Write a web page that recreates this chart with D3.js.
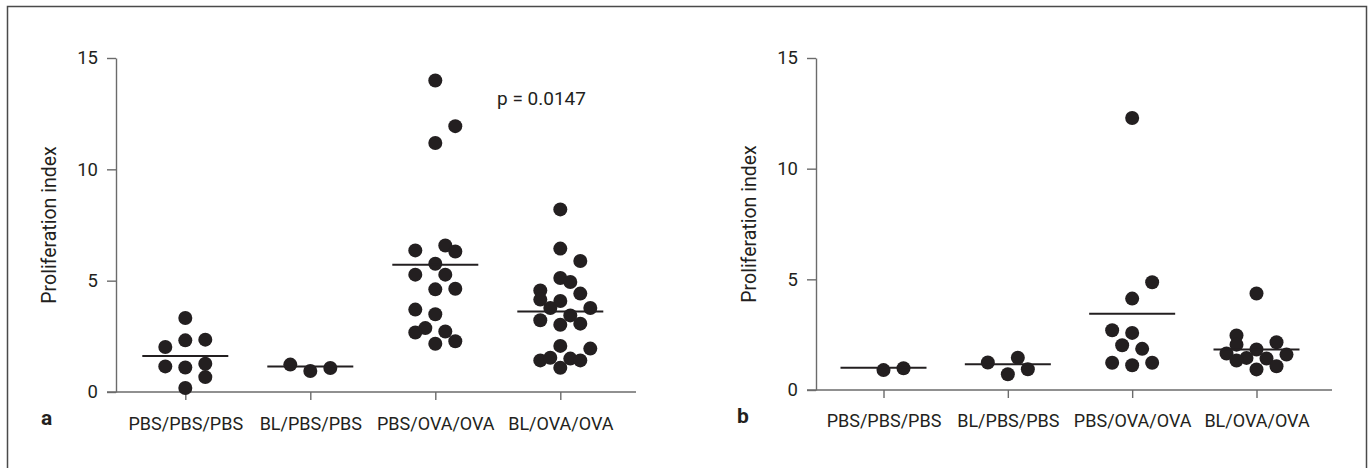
<!DOCTYPE html>
<html lang="en">
<head>
<meta charset="UTF-8">
<title>Proliferation index</title>
<style>
  body { margin: 0; background: #fff; }
  text { font-family: Roboto, "Noto Sans", sans-serif; fill: #231f20; }
</style>
</head>
<body>
<svg id="chart" width="1370" height="468"></svg>
<script src="https://d3js.org/d3.v7.min.js"></script>
<script>
const categories = ["PBS/PBS/PBS", "BL/PBS/PBS", "PBS/OVA/OVA", "BL/OVA/OVA"];
const yTicks = [0, 5, 10, 15];

// panel a: values per group, lane = horizontal slot of each dot as seen in the picture
const aValues = [
  [3.32, 2.02, 2.32, 2.35, 1.15, 1.10, 1.27, 0.67, 0.18],
  [1.23, 0.94, 1.08],
  [13.99, 11.94, 11.18, 6.36, 6.58, 6.31, 5.76, 5.27, 5.27, 4.61, 4.64, 3.70, 3.49, 2.87, 2.67, 2.72, 2.17, 2.28],
  [8.20, 6.44, 5.88, 5.12, 4.94, 4.56, 4.42, 4.15, 4.09, 3.77, 3.77, 3.44, 3.22, 3.02, 3.07, 2.07, 1.95, 1.42, 1.54, 1.50, 1.42, 1.09]
];
const aLanes = [
  [0, -2, 0, 2, -2, 0, 2, 2, 0],
  [-2, 0, 2],
  [0, 2, 0, -2, 1, 2, 0, -2, 1, 0, 2, -2, 0, -1, -2, 1, 0, 2],
  [0, 0, 2, 0, 1, -2, 2, -2, 0, -1, 3, 1, -2, 0, 2, 0, 3, -2, -1, 1, 2, 0]
];
const aMeans = [1.62, 1.14, 5.72, 3.62];

// panel b
const bValues = [
  [0.90, 0.98],
  [1.24, 1.46, 0.71, 0.94],
  [12.29, 4.87, 4.13, 2.70, 2.58, 2.02, 1.86, 1.23, 1.12, 1.23],
  [4.36, 2.46, 2.05, 2.16, 1.83, 1.65, 1.45, 1.33, 1.42, 1.60, 0.93, 1.07]
];
const bLanes = [
  [0, 2],
  [-2, 1, 0, 2],
  [0, 2, 0, -2, 0, -1, 1, -2, 0, 2],
  [0, -2, -2, 2, 0, -3, -1, -2, 1, 3, 0, 2]
];
const bMeans = [1.00, 1.16, 3.44, 1.83];

const svg = d3.select("#chart");

// outer frame
svg.append("rect")
  .attr("x", 7.5).attr("y", 6.5)
  .attr("width", 1359).attr("height", 480)
  .attr("fill", "none").attr("stroke", "#4a4a4a").attr("stroke-width", 1.5);

function drawPanel(p) {
  const g = svg.append("g");
  const y = d3.scaleLinear().domain([0, 15]).range([p.y0, p.y15]);
  const x = d3.scalePoint().domain(categories).range([p.first, p.last]);
  const lane = d3.scaleLinear().domain([0, 1]).range([0, 10]);

  // y axis
  const ya = g.append("g").attr("transform", `translate(${p.axisX},0)`)
    .call(d3.axisLeft(y).tickValues(yTicks).tickSize(9).tickPadding(9).tickSizeOuter(0));
  ya.select(".domain").attr("stroke", "#6b6b6b").attr("stroke-width", 1.4);
  ya.selectAll(".tick line").attr("stroke", "#6b6b6b").attr("stroke-width", 1.4);
  ya.selectAll(".tick text").attr("font-size", 18.5).attr("font-family", "Roboto").attr("fill", "#231f20");

  // x axis
  g.append("line")
    .attr("x1", p.axisX - 9).attr("x2", p.axisEnd)
    .attr("y1", y(0)).attr("y2", y(0))
    .attr("stroke", "#6b6b6b").attr("stroke-width", 1.4);
  const xa = g.append("g").attr("transform", `translate(0,${y(0)})`)
    .call(d3.axisBottom(x).tickSize(8).tickPadding(p.labelPad).tickSizeOuter(0));
  xa.select(".domain").remove();
  xa.selectAll(".tick line").attr("stroke", "#6b6b6b").attr("stroke-width", 1.4);
  xa.selectAll(".tick text").attr("font-size", 18).attr("font-family", "Roboto").attr("fill", "#231f20");

  // axis title
  g.append("text")
    .attr("transform", `translate(${p.axisX - 60},${(p.y0 + p.y15) / 2}) rotate(-90)`)
    .attr("text-anchor", "middle")
    .attr("font-size", 19.5)
    .text("Proliferation index");

  // panel letter
  g.append("text")
    .attr("x", p.letterX).attr("y", y(0) + 33)
    .attr("font-size", 21).attr("font-weight", "bold")
    .text(p.letter);

  // dots
  p.values.forEach(function (vals, i) {
    g.selectAll(null)
      .data(vals.map(function (v, j) { return { v: v, l: p.lanes[i][j] }; }))
      .enter()
      .append("circle")
      .attr("cx", function (d) { return x(categories[i]) + lane(d.l); })
      .attr("cy", function (d) { return y(d.v); })
      .attr("r", 7)
      .attr("fill", "#231f20");
  });

  // mean lines
  g.selectAll(null)
    .data(p.means)
    .enter()
    .append("line")
    .attr("x1", function (d, i) { return x(categories[i]) - 43; })
    .attr("x2", function (d, i) { return x(categories[i]) + 43; })
    .attr("y1", function (d) { return y(d); })
    .attr("y2", function (d) { return y(d); })
    .attr("stroke", "#231f20").attr("stroke-width", 2);

  return g;
}

const ga = drawPanel({
  y0: 392, y15: 58, axisX: 116, axisEnd: 636, first: 185.3, last: 560.3, labelPad: 17,
  letter: "a", letterX: 41, values: aValues, lanes: aLanes, means: aMeans
});
drawPanel({
  y0: 390, y15: 58, axisX: 816, axisEnd: 1332, first: 883.5, last: 1256.5, labelPad: 16,
  letter: "b", letterX: 737, values: bValues, lanes: bLanes, means: bMeans
});

ga.append("text")
  .attr("x", 497).attr("y", 105)
  .attr("font-size", 19)
  .text("p = 0.0147");
</script>
</body>
</html>
